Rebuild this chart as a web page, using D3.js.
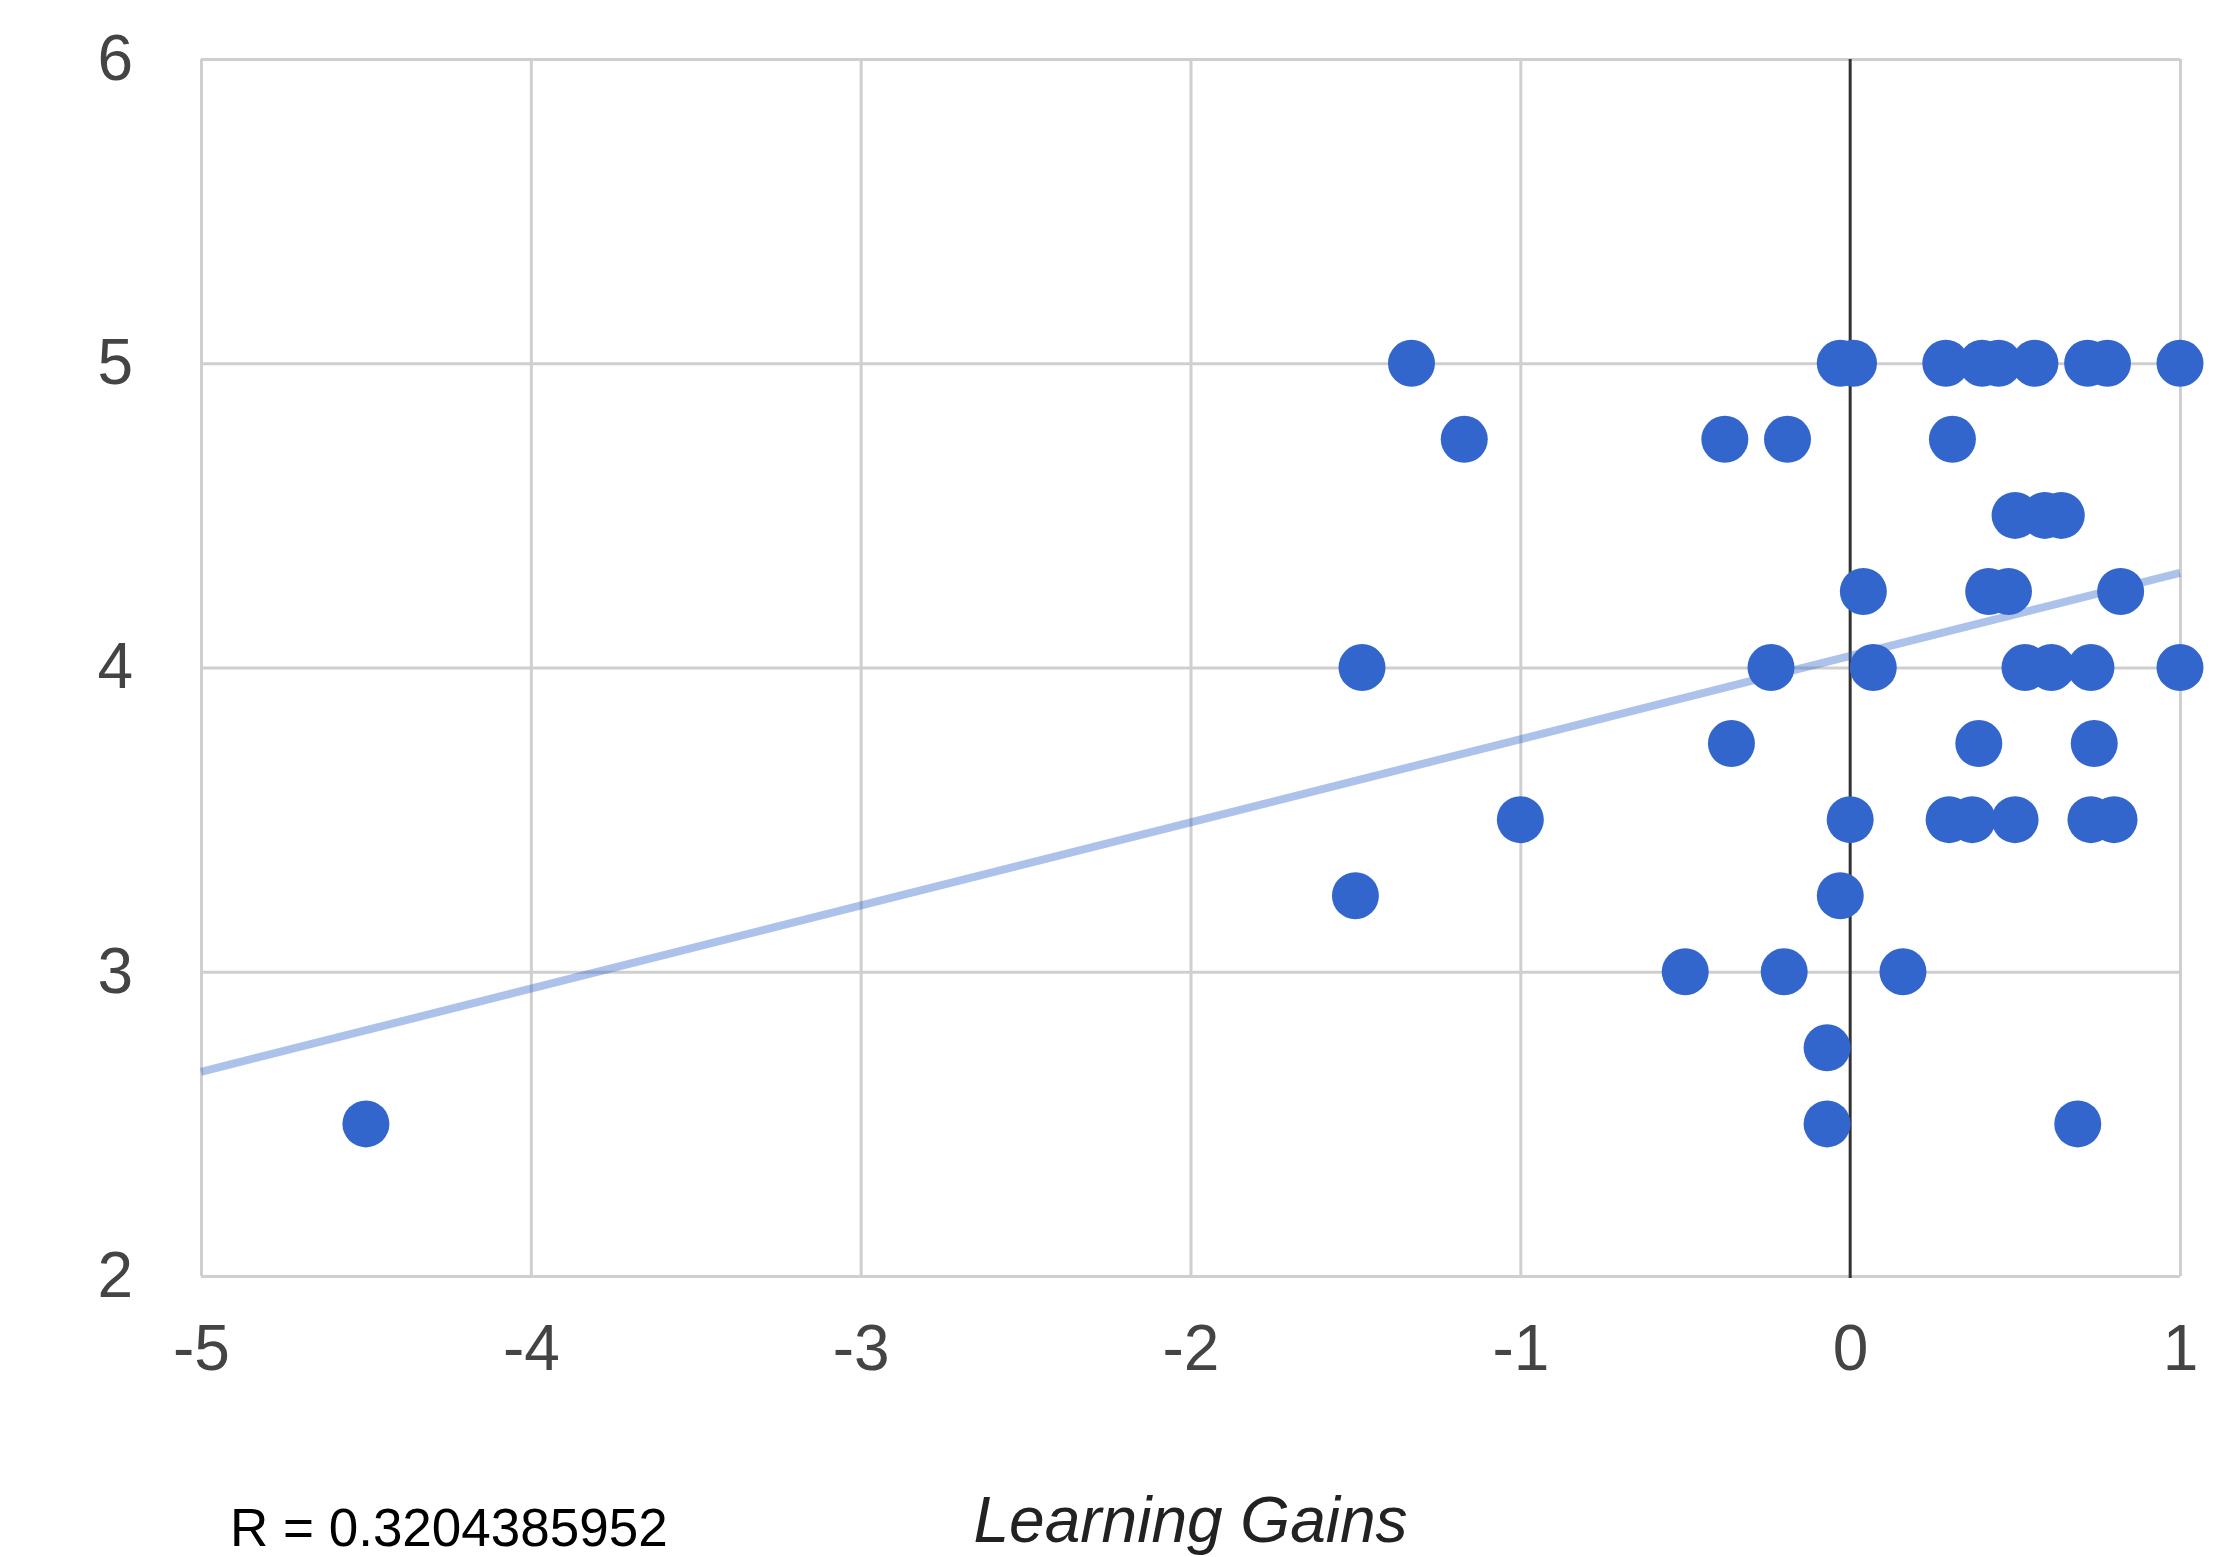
<!DOCTYPE html>
<html>
<head>
<meta charset="utf-8">
<script src="https://cdn.jsdelivr.net/npm/d3@7"></script>
<style>
  body { margin: 0; background: #fff; }
  svg { display: block; font-family: "Liberation Sans", Arial, Helvetica, sans-serif; }
</style>
</head>
<body>
<svg id="chart" width="2228" height="1557"></svg>
<script>
// learning gains (x) and ratings (y)
var gains   = [-1.33, -0.03, 0.01, 0.29, 0.4, 0.45, 0.56, 0.72, 0.78, 1.0,
               -1.17, -0.38, -0.19, 0.31,
               0.5, 0.59, 0.64,
               0.04, 0.42, 0.48, 0.82,
               -1.48, -0.24, 0.07, 0.53, 0.61, 0.73, 1.0,
               -0.36, 0.39, 0.74,
               -1.0, 0.0, 0.3, 0.37, 0.5, 0.73, 0.8,
               -1.5, -0.03,
               -0.5, -0.2, 0.16,
               -0.07,
               -4.5, -0.07, 0.69];
var ratings = [5, 5, 5, 5, 5, 5, 5, 5, 5, 5,
               4.75, 4.75, 4.75, 4.75,
               4.5, 4.5, 4.5,
               4.25, 4.25, 4.25, 4.25,
               4, 4, 4, 4, 4, 4, 4,
               3.75, 3.75, 3.75,
               3.5, 3.5, 3.5, 3.5, 3.5, 3.5, 3.5,
               3.25, 3.25,
               3, 3, 3,
               2.75,
               2.5, 2.5, 2.5];

var xTicks = [-5, -4, -3, -2, -1, 0, 1];
var yTicks = [2, 3, 4, 5, 6];

// trend line end points
var trendX = [-5, 1];
var trendY = [2.671, 4.311];

var rText = "R = 0.3204385952";
var xTitle = "Learning Gains";

var plotLeft = 201, plotRight = 2180, plotTop = 59, plotBottom = 1276;
var w = plotRight - plotLeft, h = plotBottom - plotTop;

var svg = d3.select("#chart");
var g = svg.append("g").attr("transform", "translate(" + plotLeft + "," + plotTop + ")");

var x = d3.scaleLinear().domain([-5, 1]).range([0, w]);
var y = d3.scaleLinear().domain([2, 6]).range([h, 0]);

function fmt(d){ return String(d); }  // plain hyphen minus like the original

// grid + labels
var xAxis = g.append("g")
    .attr("transform", "translate(0," + h + ")")
    .call(d3.axisBottom(x).tickValues(xTicks).tickSize(-h).tickPadding(49).tickFormat(fmt));
var yAxis = g.append("g")
    .call(d3.axisLeft(y).tickValues(yTicks).tickSize(-w).tickPadding(68).tickFormat(fmt));

[xAxis, yAxis].forEach(function(a){
    a.select(".domain").remove();
    a.selectAll(".tick line").attr("stroke", "#cfcfcf").attr("stroke-width", 3);
    a.selectAll(".tick text").attr("fill", "#444").style("font-size", "64px");
});
xAxis.selectAll(".tick line").filter(function(d){ return d === 0; }).remove();

// zero line
g.append("line")
    .attr("x1", x(0)).attr("x2", x(0))
    .attr("y1", 0).attr("y2", h + 2)
    .attr("stroke", "#333").attr("stroke-width", 3);

// trend line
g.append("line")
    .attr("x1", x(trendX[0])).attr("y1", y(trendY[0]))
    .attr("x2", x(trendX[1])).attr("y2", y(trendY[1]))
    .attr("stroke", "#3366cc").attr("stroke-opacity", 0.4)
    .attr("stroke-width", 8);

// points
g.selectAll("circle.pt")
    .data(gains.map(function(v, i){ return [v, ratings[i]]; }))
    .enter().append("circle")
    .attr("class", "pt")
    .attr("cx", function(d){ return x(d[0]); })
    .attr("cy", function(d){ return y(d[1]); })
    .attr("r", 23.5)
    .attr("fill", "#3366cc");

// axis title
svg.append("text")
    .attr("x", plotLeft + w / 2).attr("y", 1542)
    .attr("text-anchor", "middle")
    .attr("font-style", "italic")
    .attr("fill", "#222")
    .style("font-size", "64px")
    .text(xTitle);

svg.append("text")
    .attr("x", 230).attr("y", 1546)
    .attr("fill", "#000")
    .style("font-size", "53px")
    .text(rText);
</script>
</body>
</html>
